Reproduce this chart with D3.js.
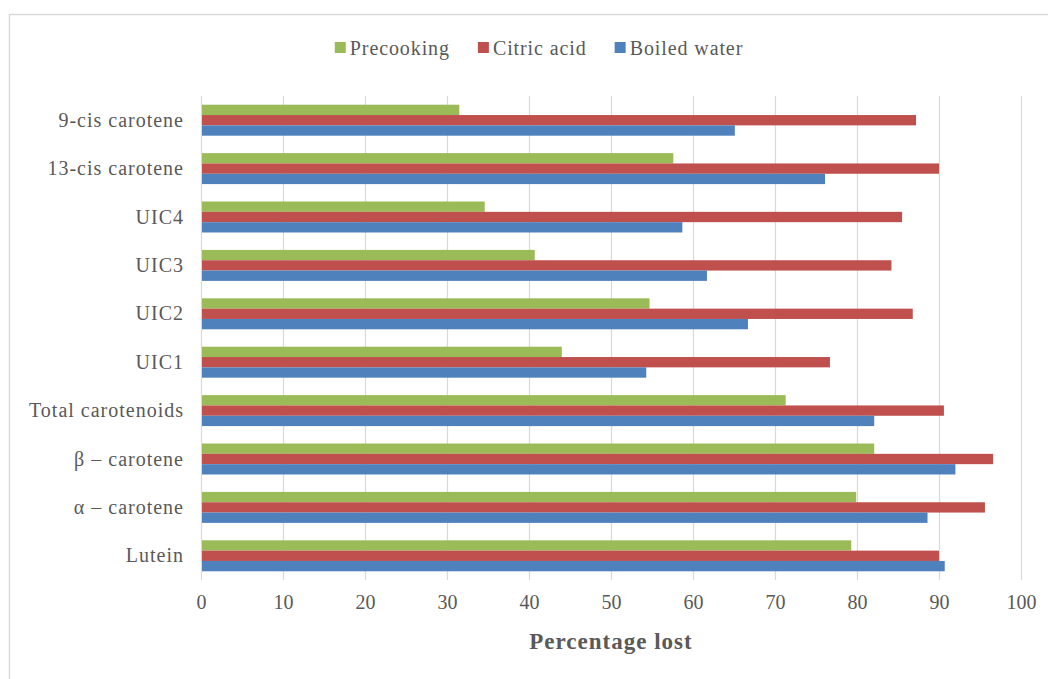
<!DOCTYPE html>
<html>
<head>
<meta charset="utf-8">
<script src="https://cdn.jsdelivr.net/npm/d3@7"></script>
<style>
  html, body { margin: 0; padding: 0; background: #fff; }
  svg { display: block; }
</style>
</head>
<body>
<svg id="chart" width="1048" height="679"></svg>
<script>
// Carotenoid losses (%) by treatment
const categories = ["9-cis carotene", "13-cis carotene", "UIC4", "UIC3", "UIC2", "UIC1",
                    "Total carotenoids", "β – carotene", "α – carotene", "Lutein"];
const seriesNames = ["Precooking", "Citric acid", "Boiled water"];
const precooking  = [31.5, 57.6, 34.6, 40.7, 54.7, 44.0, 71.3, 82.1, 79.9, 79.3];
const citricAcid  = [87.2, 90.0, 85.5, 84.2, 86.8, 76.7, 90.6, 96.6, 95.6, 90.0];
const boiledWater = [65.1, 76.1, 58.7, 61.7, 66.7, 54.3, 82.1, 92.0, 88.6, 90.7];
const xTicks = [0, 10, 20, 30, 40, 50, 60, 70, 80, 90, 100];
const colors = ["#9bbb59", "#c0504d", "#4f81bd"];

const FONT = '"Liberation Serif", "Times New Roman", serif';
const TEXT_COLOR = "#595959";

const seriesValues = [precooking, citricAcid, boiledWater];
const rows = categories.map((c, i) => ({ cat: c, vals: seriesValues.map(s => s[i]) }));

const svg = d3.select("#chart");

// outer frame
svg.append("rect")
  .attr("x", 9.5).attr("y", 14.5)
  .attr("width", 1060).attr("height", 700)
  .attr("fill", "#fff").attr("stroke", "#d9d9d9").attr("stroke-width", 1.5);

const x = d3.scaleLinear().domain([0, 100]).range([201, 1021]);
const y = d3.scaleBand().domain(categories).range([96, 580])
  .paddingInner(0.36).paddingOuter(0.18);
const ySub = d3.scaleBand().domain(seriesNames).range([0, y.bandwidth()]);

// vertical gridlines
svg.append("g").selectAll("line").data(xTicks).join("line")
  .attr("x1", d => x(d) + 0.5).attr("x2", d => x(d) + 0.5)
  .attr("y1", 96).attr("y2", 580)
  .attr("stroke", "#d9d9d9").attr("stroke-width", 1.2);

// bars
const groups = svg.append("g").selectAll("g").data(rows).join("g")
  .attr("transform", d => `translate(0,${y(d.cat)})`);
groups.selectAll("rect").data(d => d.vals.map((v, k) => ({ v, name: seriesNames[k], k })))
  .join("rect")
  .attr("x", x(0) + 1)
  .attr("y", d => ySub(d.name))
  .attr("width", d => x(d.v) - x(0) - 1)
  .attr("height", ySub.bandwidth())
  .attr("fill", d => colors[d.k]);

// category labels
const yAxis = d3.axisLeft(y).tickSize(0).tickPadding(0);
const gy = svg.append("g").attr("transform", "translate(184,0)").call(yAxis)
  .attr("font-family", FONT);
gy.select(".domain").remove();
gy.selectAll("text")
  .style("font-family", FONT)
  .style("font-size", "20px").style("letter-spacing", "1px").style("fill", TEXT_COLOR)
  .attr("dy", "0.33em");

// x tick labels
const xAxis = d3.axisBottom(x).tickValues(xTicks).tickSize(0).tickPadding(0);
const gx = svg.append("g").attr("transform", "translate(0,597)").call(xAxis)
  .attr("font-family", FONT);
gx.select(".domain").remove();
gx.selectAll("text")
  .style("font-family", FONT)
  .style("font-size", "20px").style("fill", TEXT_COLOR)
  .attr("dy", "0.6em");

// axis title
svg.append("text")
  .attr("x", 611).attr("y", 649)
  .attr("text-anchor", "middle")
  .style("font-family", FONT)
  .style("font-size", "23px").style("letter-spacing", "1px")
  .style("font-weight", "bold").style("fill", TEXT_COLOR)
  .text("Percentage lost");

// legend
const legend = svg.append("g");
let lx = 0;
seriesNames.forEach((name, k) => {
  const item = legend.append("g").attr("transform", `translate(${lx},0)`);
  item.append("rect").attr("x", 0).attr("y", -6).attr("width", 11).attr("height", 11)
    .attr("fill", colors[k]);
  const t = item.append("text").attr("x", 15).attr("y", 0).attr("dy", "0.35em")
    .style("font-family", FONT)
    .style("font-size", "20px").style("letter-spacing", "0.9px").style("fill", TEXT_COLOR)
    .text(name);
  lx += 15 + t.node().getComputedTextLength() + 28;
});
const legendWidth = lx - 28;
legend.attr("transform", `translate(${539 - legendWidth / 2},48)`);
</script>
</body>
</html>
